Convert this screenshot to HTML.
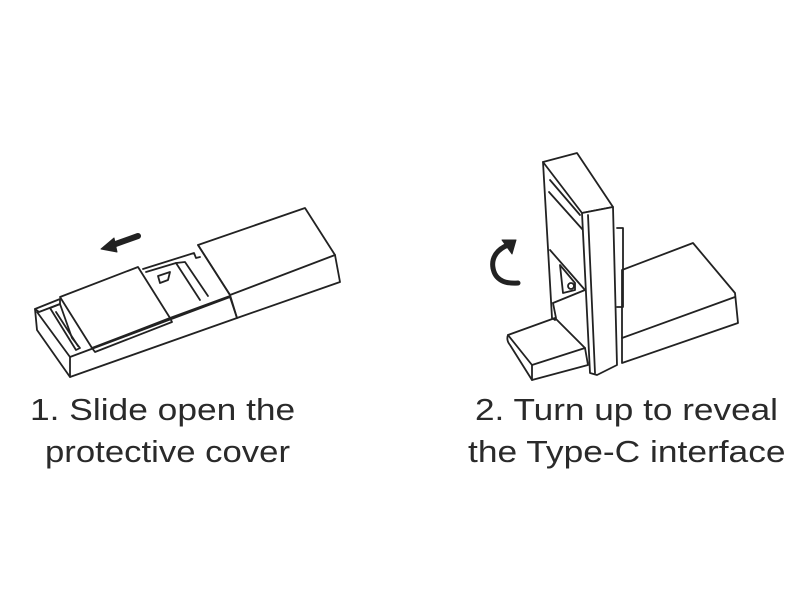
<!DOCTYPE html>
<html><head><style>html,body{margin:0;padding:0;background:#fff;}svg{display:block}</style></head>
<body>
<svg width="800" height="599" viewBox="0 0 800 599" xmlns="http://www.w3.org/2000/svg">
<rect width="800" height="599" fill="#fff"/>
<g fill="none" stroke="#222" stroke-width="1.8" stroke-linejoin="round" stroke-linecap="round">
<!-- LEFT DEVICE -->
<path d="M35,309 L60,299 L60,304 L39,312 Z"/>
<path d="M35,309 L37,330 L70,377 L237,318 L230,297"/>
<path d="M37,312 L70,357 L230,297"/>
<path d="M70,357 L70,377"/>
<path d="M50,308 L60,304 L72,338 L80,348 L76,350 Z"/>
<path d="M56,312 L78,346"/>
<path d="M60,297 L138,267 L170,318 L92,348 Z" fill="#fff"/>
<path d="M92,348 L95,352 L172,322 L170,318"/>
<path d="M170,318 L230,296"/>
<path d="M143,269 L194,253 L196,258 L200,257"/>
<path d="M146,272 L176,263 L200,300"/>
<path d="M158,276 L170,272 L168,280 L160,283 Z"/>
<path d="M176,263 L185,262 L208,296"/>
<path d="M198,245 L305,208 L335,255 L230,295 Z" fill="#fff"/>
<path d="M335,255 L340,282 L237,318 L230,295"/>
<path d="M198,245 L230,295"/>
<path d="M138,236 L110,246" stroke-width="6"/>
<path d="M101,249 L114,238 L117,252 Z" fill="#222" stroke-width="1"/>

<!-- RIGHT DEVICE -->
<path d="M622,270 L693,243 L735,293 L738,323 L622,363 Z" fill="#fff"/>
<path d="M622,338 L735,297"/>
<path d="M508,335 L555,318 L585,348 L532,365 Z" fill="#fff"/>
<path d="M508,335 Q506,340 510,345 L532,380 L588,365 L585,348"/>
<path d="M532,365 L532,380"/>
<path d="M617,228 L623,228 L623,307 L617,307"/>
<path d="M543,162 L577,153 L613,207 L582,213 Z" fill="#fff"/>
<path d="M543,162 L552,318 L555,320"/>
<path d="M553,303 L585,290"/>
<path d="M553,303 L556,318"/>
<path d="M550,180 L580,215"/>
<path d="M549,192 L583,230"/>
<path d="M550,250 L585,290"/>
<path d="M560,265 L575,283 L575,290 L563,293 Z"/>
<circle cx="571" cy="286" r="3"/>
<path d="M582,213 L613,207 L617,365 L597,375 L590,373 Z" fill="#fff"/>
<path d="M588,215 L595,373"/>
<!-- curved arrow -->
<path d="M493,268 C491,257 498,249 508,245" stroke-width="5"/>
<path d="M516,240 L502,240 L512,254 Z" fill="#222" stroke-width="1"/>
<path d="M493,268 C495,280 505,284 518,283" stroke-width="5"/>
</g>
<g font-family="'Liberation Sans', Arial, sans-serif" font-size="31" fill="#2a2a2a">
<text transform="translate(30,420) scale(1.14,1)">1. Slide open the</text>
<text transform="translate(45,462) scale(1.12,1)">protective cover</text>
<text transform="translate(475,420) scale(1.135,1)">2. Turn up to reveal</text>
<text transform="translate(468,462) scale(1.14,1)">the Type-C interface</text>
</g>
</svg>
</body></html>
